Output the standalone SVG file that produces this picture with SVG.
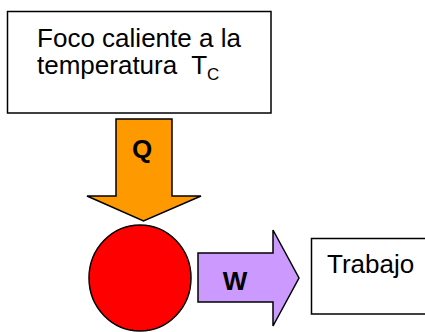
<svg xmlns="http://www.w3.org/2000/svg" width="425" height="332" viewBox="0 0 425 332">
<style>
.box{fill:#ffffff;stroke:#000000;stroke-width:1.5}
.t{font-family:"Liberation Sans",Arial,sans-serif;font-size:26px;fill:#000000;white-space:pre}
.b{font-family:"Liberation Sans",Arial,sans-serif;font-size:26px;font-weight:bold;fill:#000000;text-anchor:middle}
.arr{stroke:#000000;stroke-width:1.5;stroke-linejoin:miter}
</style>
<rect width="425" height="332" fill="#ffffff"/>
<g id="foco">
<rect class="box" x="7.5" y="11.5" width="263.5" height="101.5"/>
<text class="t" x="139" y="47" text-anchor="middle">Foco caliente a la</text>
<text class="t" x="37" y="74" xml:space="preserve">temperatura  T<tspan font-size="17" dy="6">C</tspan></text>
</g>
<g id="connectors">
<g id="arrow-q">
<polygon class="arr" fill="#FF9900" points="116,119 172,119 172,196 201,196 143.5,221 87,196 116,196"/>
<text class="b" x="142" y="158">Q</text>
</g>
<g id="arrow-w">
<polygon class="arr" fill="#CC99FF" points="198,253 273,253 273,230 299,278 273,326 273,302 198,302"/>
<text class="b" x="235" y="290">W</text>
</g>
</g>
<g id="motor">
<ellipse cx="140" cy="278" rx="51" ry="53" fill="#FF0000" stroke="#000000" stroke-width="1.5"/>
</g>
<g id="trabajo">
<rect class="box" x="311.5" y="238.5" width="125" height="75.5"/>
<text class="t" x="327" y="273">Trabajo</text>
</g>
</svg>
